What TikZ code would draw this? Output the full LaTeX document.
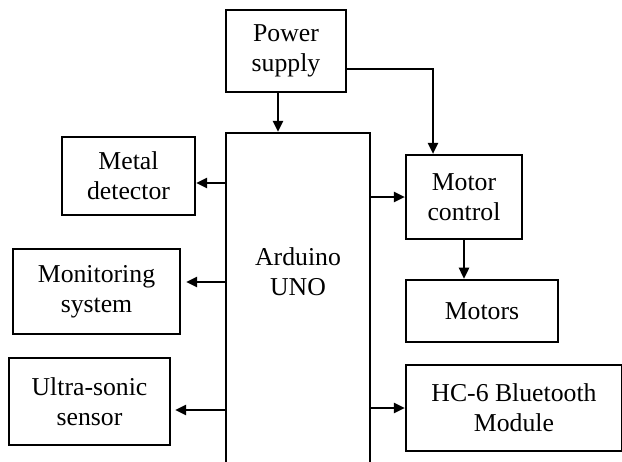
\documentclass[tikz,border=0pt]{standalone}
\usepackage{fontspec}
\setmainfont{Liberation Serif}
\usetikzlibrary{arrows.meta,calc,positioning}

\begin{document}
\begin{tikzpicture}[x=0.025cm,y=-0.025cm,
  every node/.style={font=\fontsize{18.3}{21.3}\selectfont},
  blk/.style={draw,line width=1.3pt,align=center,inner sep=0pt},
  arr/.style={-{Triangle[length=8pt,width=7pt]},line width=2pt}]
  \useasboundingbox (0,0) rectangle (622,461);
  \node[blk,minimum width=3cm,minimum height=2.05cm] (power) at (286,51) {Power\\supply};
  \node[blk,minimum width=3.6cm,minimum height=9.175cm] (arduino) at (298,316.5) {};
  \node[align=center] (ardtxt) at (298,272) {Arduino\\UNO};
  \node[blk,minimum width=3.325cm,minimum height=1.95cm] (metal) at (128.5,176) {Metal\\detector};
  \node[blk,minimum width=4.175cm,minimum height=2.125cm] (monitor) at (96.5,291.5) {Monitoring\\system};
  \node[blk,minimum width=4.025cm,minimum height=2.175cm] (ultra) at (89.5,401.5) {Ultra-sonic\\sensor};
  \node[blk,minimum width=2.9cm,minimum height=2.1cm] (motorctl) at (464,197) {Motor\\control};
  \node[blk,minimum width=3.8cm,minimum height=1.55cm,below right=0.975cm and 0cm of motorctl.south west] (motors) {Motors};
  \node[blk,minimum width=5.4cm,minimum height=2.15cm] (hc) at (514,408) {HC-6 Bluetooth\\Module};
  % power lines
  \coordinate (pwrout) at ($(power.south)+(-8,0)$);
  \coordinate (pwrmot) at ($(motorctl.north)+(-31,0)$);
  \draw[arr] (pwrout) -- (pwrout |- arduino.north);
  \draw[arr] ($(power.east)+(0,18)$) -| (pwrmot);
  % outputs of the board
  \draw[arr] (arduino.east |- motorctl.west) -- (motorctl.west);
  \draw[arr] (motorctl.south) -- (motorctl.south |- motors.north);
  \draw[arr] (arduino.east |- hc.west) -- (hc.west);
  \draw[arr] ($(arduino.west |- metal.east)+(0,7)$) -- ($(metal.east)+(0,7)$);
  \draw[arr] ($(arduino.west |- monitor.east)+(0,-9.5)$) -- ($(monitor.east)+(5,-9.5)$);
  \draw[arr] ($(arduino.west |- ultra.east)+(0,8.5)$) -- ($(ultra.east)+(4,8.5)$);
\end{tikzpicture}
\end{document}
